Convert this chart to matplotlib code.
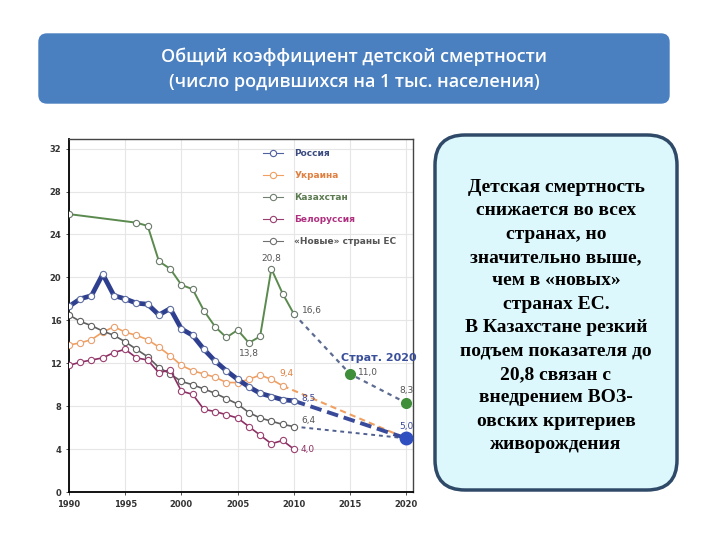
import matplotlib
matplotlib.use("Agg")
import matplotlib.pyplot as plt
from matplotlib.patches import FancyBboxPatch
from matplotlib.lines import Line2D

plt.rcParams['font.family'] = ['DejaVu Sans']

# ---- data ----
years = list(range(1990, 2011))
russia = [17.3, 18.0, 18.3, 20.3, 18.3, 18.0, 17.6, 17.5, 16.5, 17.1, 15.2,
          14.6, 13.3, 12.2, 11.3, 10.5, 9.8, 9.2, 8.9, 8.6, 8.5]
ukraine_years = list(range(1990, 2010))
ukraine = [13.7, 13.9, 14.2, 14.9, 15.4, 14.9, 14.6, 14.2, 13.5, 12.7, 11.8,
           11.3, 11.0, 10.7, 10.2, 10.2, 10.5, 10.9, 10.5, 9.9]
kaz_years = [1990, 1996, 1997, 1998, 1999, 2000, 2001, 2002, 2003, 2004, 2005,
             2006, 2007, 2008, 2009, 2010]
kazakhstan = [25.9, 25.1, 24.8, 21.5, 20.8, 19.3, 18.9, 16.9, 15.4, 14.4, 15.1,
              13.9, 14.5, 20.8, 18.5, 16.6]
belarus = [11.8, 12.1, 12.3, 12.5, 13.0, 13.3, 12.5, 12.3, 11.1, 11.4, 9.4,
           9.1, 7.7, 7.5, 7.2, 6.9, 6.1, 5.3, 4.5, 4.8, 4.0]
new_eu = [16.5, 15.9, 15.5, 15.0, 14.6, 14.0, 13.3, 12.6, 11.6, 11.0, 10.3,
          10.0, 9.6, 9.2, 8.7, 8.2, 7.4, 6.9, 6.6, 6.3, 6.1]

kaz_plan_years = [2010, 2015, 2020]
kaz_plan = [16.6, 11.0, 8.3]
target_year = 2020
target = 5.0

labels = ["Россия", "Украина", "Казахстан", "Белоруссия", "«Новые» страны ЕС"]
colors = ["#2f3f90", "#f0a060", "#5b8a4e", "#8c2f64", "#707070"]
label_colors = ["#3a4a80", "#e08040", "#5b7a50", "#b03080", "#555555"]

title = "Общий коэффициент детской смертности\n(число родившихся на 1 тыс. населения)"
note = ("Детская смертность\nснижается во всех\nстранах, но\nзначительно выше,\n"
        "чем в «новых»\nстранах ЕС.\nВ Казахстане резкий\nподъем показателя до\n"
        "20,8 связан с\nвнедрением ВОЗ-\nовских критериев\nживорождения")

fig = plt.figure(figsize=(7.2, 5.4), dpi=100)

# background layer in pixel coordinates
bg = fig.add_axes([0, 0, 1, 1], zorder=-1)
bg.set_xlim(0, 720)
bg.set_ylim(540, 0)
bg.axis('off')
bg.add_patch(FancyBboxPatch((39, 34), 630, 69, boxstyle="round,pad=0,rounding_size=8",
                            fc="#4a7fc0", ec="#4a7fc0", lw=1))
bg.text(354, 69, title, ha='center', va='center', color='white', fontsize=13,
        fontweight='semibold', linespacing=1.5, family='Open Sans')
bg.add_patch(FancyBboxPatch((435, 135), 242, 355, boxstyle="round,pad=0,rounding_size=30",
                            fc="#ddf8fc", ec="#2f4a68", lw=2.5))
bg.text(556, 316, note, ha='center', va='center', color='black', fontsize=14,
        fontweight='bold', family='Liberation Serif', linespacing=1.49)

# ---- chart ----
ax = fig.add_axes([69 / 720, 1 - 492 / 540, 344 / 720, 353 / 540])
ax.set_xlim(1990, 2020.6)
ax.set_ylim(0, 32.9)
ax.set_xticks(range(1990, 2021, 5))
ax.set_yticks(range(0, 33, 4))
ax.grid(color="#e6e6e6", lw=0.8)
ax.set_axisbelow(True)
ax.tick_params(labelsize=6, colors="#333333", length=2, width=0.6)
for lab in ax.get_xticklabels() + ax.get_yticklabels():
    lab.set_fontweight('bold')
for s in ['left', 'bottom']:
    ax.spines[s].set_linewidth(1.3)
for s in ['top', 'right']:
    ax.spines[s].set_linewidth(1.0)
    ax.spines[s].set_color('#444444')

# projections to 2020
ax.plot(kaz_plan_years, kaz_plan, ls=(0, (2, 2)), color="#5c6b8f", lw=1.6, zorder=2)
ax.plot([ukraine_years[-1], target_year], [ukraine[-1], target], ls=(0, (3, 2)),
        color="#f0a060", lw=1.5, zorder=2)
ax.plot([years[-1], target_year], [new_eu[-1], target], ls=(0, (2, 2)),
        color="#4f5f8f", lw=1.4, zorder=2)
ax.plot([years[-1], target_year], [russia[-1], target], ls=(0, (3, 1.5)),
        color="#3a4a9a", lw=2.8, zorder=2)
ax.plot(kaz_plan_years[1:], kaz_plan[1:], 'o', color="#3f8f3a", ms=7, zorder=5)
ax.plot([target_year], [target], 'o', color="#2f4fc0", ms=9, zorder=5)

mk = dict(marker='o', mfc='white', ms=4.5, mew=0.8)
ax.plot(kaz_years, kazakhstan, color=colors[2], lw=1.4, mec="#6a7a6a", zorder=3, **mk)
ax.plot(ukraine_years, ukraine, color=colors[1], lw=1.2, mec="#e8a070", zorder=3, **mk)
ax.plot(years, new_eu, color="#606060", lw=1.2, mec="#606060", zorder=3, **mk)
ax.plot(years, belarus, color=colors[3], lw=1.2, mec="#9a4070", zorder=3, **mk)
ax.plot(years, russia, color=colors[0], lw=3.4, mec="#6070a0", zorder=4, **mk)

# annotations
fs = 6.5
ax.text(2008, 21.3, "20,8", fontsize=fs, color="#555555", ha='center', va='bottom')
ax.text(2006, 13.3, "13,8", fontsize=fs, color="#555555", ha='center', va='top')
ax.text(2010.7, 16.9, "16,6", fontsize=fs, color="#555555", va='center')
ax.text(2017.6, 12.5, "Страт. 2020", fontsize=8, color="#3a4f9a", fontweight='bold',
        ha='center', va='center')
ax.text(2015.7, 11.1, "11,0", fontsize=fs, color="#555555", va='center')
ax.text(2020, 9.0, "8,3", fontsize=fs, color="#555555", ha='center', va='bottom')
ax.text(2020, 5.7, "5,0", fontsize=fs, color="#3a4a9a", ha='center', va='bottom')
ax.text(2009.3, 10.6, "9,4", fontsize=fs, color="#e08040", ha='center', va='bottom')
ax.text(2010.7, 8.7, "8,5", fontsize=fs, color="#3a4a9a", va='center')
ax.text(2010.7, 6.7, "6,4", fontsize=fs, color="#555555", va='center')
ax.text(2010.6, 4.0, "4,0", fontsize=fs, color=colors[3], va='center')

handles = [Line2D([], [], color=c, lw=0.8, marker='o', mfc='white', ms=4.5, mew=0.8,
                  mec=c) for c in ["#5060a0", "#f0a060", "#708070", "#9a4070", "#707070"]]
leg = ax.legend(handles, labels, loc='upper left', bbox_to_anchor=(0.54, 0.995),
                frameon=False, fontsize=6.5, labelspacing=1.45, handlelength=2.2,
                handletextpad=1.3, labelcolor=label_colors)
for t in leg.get_texts():
    t.set_fontweight('bold')

fig.savefig("out.png", dpi=100)
